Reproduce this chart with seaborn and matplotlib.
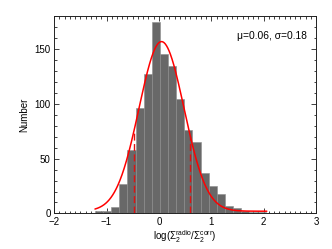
import numpy as np
import pandas as pd
import matplotlib
matplotlib.use('Agg')
import matplotlib.pyplot as plt
from matplotlib.ticker import MultipleLocator
import seaborn as sns

# ==================== DATA ====================
# histogram of log(Sigma_radio / Sigma_corr)
BIN_START = -1.22
BIN_WIDTH = 0.155
counts = [2, 2, 6, 27, 58, 96, 127, 175, 146, 135, 105, 76, 65, 37, 25, 18, 7, 5, 2, 1, 1]

# gaussian fit drawn over the histogram (amplitude, centre, width, baseline)
fit_amp = 155.0
fit_mu = 0.05
fit_width = 0.43
fit_base = 2.0
fit_range = (-1.22, 2.06)

# quoted values and the +-3 sigma markers
mu_txt = 0.06
sigma_txt = 0.18

# ==================== STYLE ====================
sns.set_style('ticks')
plt.rcParams['font.family'] = ['Liberation Sans', 'DejaVu Sans']
plt.rcParams['mathtext.fontset'] = 'custom'
plt.rcParams['mathtext.rm'] = 'Liberation Sans'
plt.rcParams['mathtext.it'] = 'Liberation Sans:italic'
plt.rcParams['text.color'] = 'black'
plt.rcParams['axes.labelcolor'] = 'black'
plt.rcParams['xtick.color'] = 'black'
plt.rcParams['ytick.color'] = 'black'

FS = 7

edges = BIN_START + BIN_WIDTH * np.arange(len(counts) + 1)
centers = 0.5 * (edges[:-1] + edges[1:])
df = pd.DataFrame({'x': centers, 'n': counts})

fig = plt.figure(figsize=(3.32, 2.49), dpi=100)
ax = fig.add_axes([0.163, 0.143, 0.789, 0.791])

sns.histplot(data=df, x='x', weights='n', binwidth=BIN_WIDTH,
             binrange=(edges[0], edges[-1]), ax=ax,
             color='#686868', edgecolor='#8c8c8c', linewidth=0.4, alpha=1.0)

def fit_curve(x):
    return fit_amp * np.exp(-(x - fit_mu) ** 2 / (2 * fit_width ** 2)) + fit_base

xs = np.linspace(fit_range[0], fit_range[1], 400)
sns.lineplot(x=xs, y=fit_curve(xs), ax=ax, color='red', linewidth=1.1)

# dashed lines at mu +- 3 sigma, up to the fit
for xv in (mu_txt - 3 * sigma_txt, mu_txt + 3 * sigma_txt):
    ax.plot([xv, xv], [0, fit_curve(xv)], color='#e01010', linewidth=1.0,
            linestyle=(0, (5, 2.5)))

ax.text(0.966, 0.90, u'\u03bc=%.2f, \u03c3=%.2f' % (mu_txt, sigma_txt),
        transform=ax.transAxes, ha='right', va='center', fontsize=7.4)

ax.set_xlim(-2, 3)
ax.set_ylim(0, 180)
ax.xaxis.set_major_locator(MultipleLocator(1))
ax.xaxis.set_minor_locator(MultipleLocator(0.1))
ax.yaxis.set_major_locator(MultipleLocator(50))
ax.yaxis.set_minor_locator(MultipleLocator(10))
ax.tick_params(which='both', direction='in', top=True, right=True,
               labelsize=FS, width=0.6, color='#222222', pad=2.5)
ax.tick_params(which='major', length=3.6)
ax.tick_params(which='minor', length=1.8)
for s in ax.spines.values():
    s.set_linewidth(0.7)
    s.set_color('#222222')

ax.set_xlabel(r'log($\Sigma_2^{\rm radio}$/$\Sigma_2^{\rm corr}$)', fontsize=FS, labelpad=1)
ax.set_ylabel('Number', fontsize=FS, labelpad=4)

fig.savefig('out.png', dpi=100)
